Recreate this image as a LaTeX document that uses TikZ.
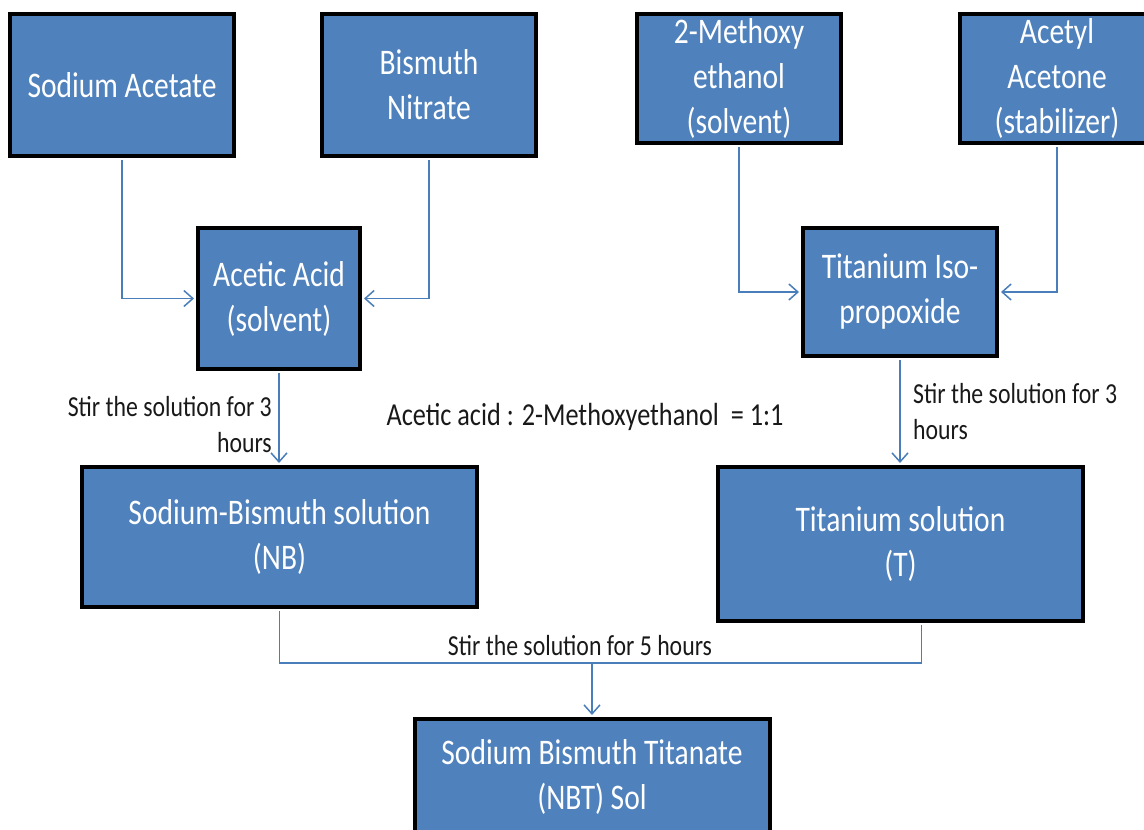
\documentclass[tikz,border=0pt]{standalone}
\usepackage{fontspec}
\setmainfont{Carlito}[FakeStretch=0.82]
\usetikzlibrary{arrows.meta}
\definecolor{boxblue}{RGB}{79,129,189}
\definecolor{lineblue}{RGB}{74,126,187}

\begin{document}
\begin{tikzpicture}[x=1pt,y=-1pt,
  box/.style={draw=black,line width=4pt,fill=boxblue,text=white,inner sep=0pt,
    align=center,font=\fontsize{36}{45}\selectfont},
  lbl/.style={inner sep=0pt,text=black!90,font=\fontsize{29}{36}\selectfont},
  link/.style={draw=lineblue,line width=1.5pt},
  frombox/.style={shorten <=2pt},
  arr/.style={link,shorten >=2pt,-{Straight Barb[length=9pt,width=16pt]}}]

  \useasboundingbox (0,0) rectangle (1144,830);
  \clip (0,0) rectangle (1144,830);

  % raw materials
  \node[box,minimum width=224pt,minimum height=142pt] (sa) at (122,85) {Sodium Acetate};
  \node[box,minimum width=214pt,minimum height=142pt] (bn) at (429,85) {Bismuth\\Nitrate};
  \node[box,minimum width=204pt,minimum height=129pt] (mo) at (739,78.5) {2-Methoxy\\ethanol\\(solvent)};
  \node[box,minimum width=194pt,minimum height=129pt] (ac) at (1057,78.5) {Acetyl\\Acetone\\(stabilizer)};

  % solvent / precursor
  \node[box,minimum width=162pt,minimum height=141pt] (aa) at (279,298.5) {Acetic Acid\\(solvent)};
  \node[box,minimum width=194pt,minimum height=128pt] (ti) at (900,292) {Titanium Iso-\\propoxide};

  % solutions
  \node[box,minimum width=395pt,minimum height=140pt] (nb) at (279.5,537) {Sodium-Bismuth solution\\(NB)};
  \node[box,minimum width=365pt,minimum height=154pt] (ts) at (900.5,544) {Titanium solution\\(T)};
  \node[box,minimum width=355pt,minimum height=116pt] (nbt) at (592,777) {Sodium Bismuth Titanate\\(NBT) Sol};

  % notes
  \node[lbl,align=right,anchor=east] (stirnb) at (272,425) {Stir the solution for 3\\hours};
  \node[lbl,align=left,anchor=west] (stirt) at (913,412) {Stir the solution for 3\\hours};
  \node[lbl] (stirnbt) at (580,646) {Stir the solution for 5 hours};
  \node[lbl,font=\fontsize{32}{38}\selectfont] (ratio) at (585,417) {Acetic acid : 2-Methoxyethanol \ = 1:1};

  \coordinate (join) at (592,663);

  \draw[arr,frombox] (sa.south) |- (aa.west);
  \draw[arr,frombox] (bn.south) |- (aa.east);
  \draw[arr,frombox] (mo.south) |- (ti.west);
  \draw[arr,frombox] (ac.south) |- (ti.east);
  \draw[arr,frombox] (aa.south) -- (aa.south |- nb.north);
  \draw[arr,frombox] (ti.south) -- (ti.south |- ts.north);
  \draw[link,frombox] (nb.south) |- (join);
  \draw[link,frombox] ([xshift=21pt]ts.south) |- (join);
  \draw[arr] (join) -- (nbt.north);
\end{tikzpicture}
\end{document}
